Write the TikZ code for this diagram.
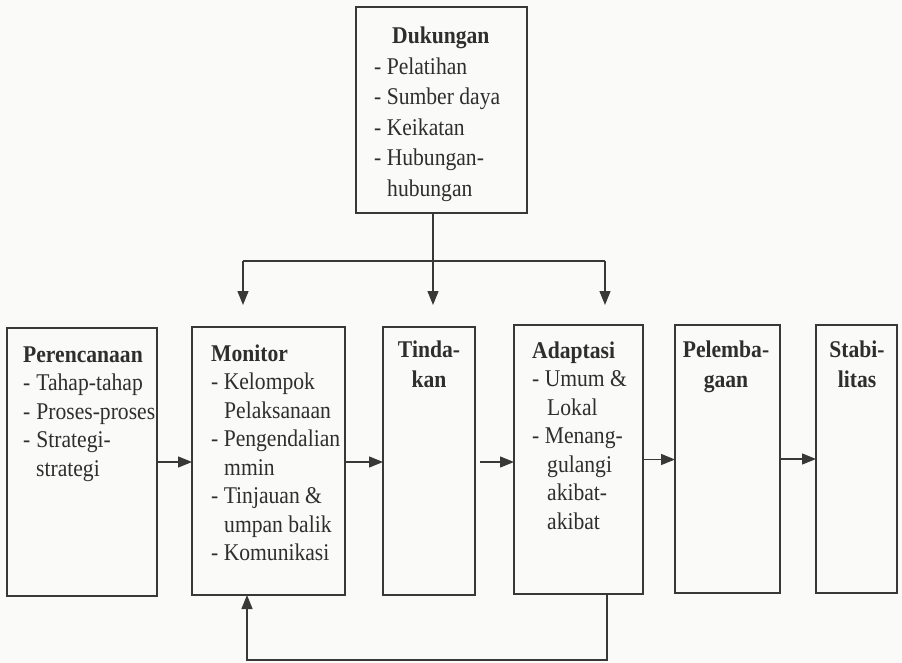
\documentclass[tikz,border=0pt]{standalone}
\usepackage{fontspec}
\setmainfont{Liberation Serif}[FakeStretch=0.9]
\usetikzlibrary{arrows.meta}
\definecolor{ink}{HTML}{2E2E2E}
\definecolor{rule}{HTML}{383838}
\definecolor{paper}{HTML}{FAFAF8}
% top-aligned blocks of lines, anchored at the first baseline
\newcommand\leftlines[1]{\parbox[t]{200pt}{\raggedright #1}}
\newcommand\midlines[1]{\parbox[t]{120pt}{\centering #1}}
\begin{document}
\begin{tikzpicture}[x=1pt,y=-1pt,
  box/.style={draw=rule,line width=1.3pt,inner sep=0pt,outer sep=0pt},
  line/.style={draw=rule,line width=1.3pt},
  arr/.style={line,-{Triangle[length=14pt,width=11pt]}},
  txt/.style={text=ink,inner sep=0pt,anchor=base west,
    font=\fontsize{24}{28.5}\selectfont},
  ctxt/.style={text=ink,inner sep=0pt,anchor=base,
    font=\bfseries\fontsize{24}{30}\selectfont}]
% page
\fill[paper] (0,0) rectangle (902,663);
\useasboundingbox (0,0) rectangle (902,663);

% boxes
\node[box,minimum width=171pt,minimum height=206pt] (duk) at (441.5,110) {};
\node[box,minimum width=150pt,minimum height=268pt] (per) at (82,462) {};
\node[box,minimum width=153pt,minimum height=268pt] (mon) at (268.5,461) {};
\node[box,minimum width=92pt,minimum height=268pt] (tin) at (429,461) {};
\node[box,minimum width=129pt,minimum height=269pt] (ada) at (578.5,459.5) {};
\node[box,minimum width=105pt,minimum height=268pt] (pel) at (727.5,459) {};
\node[box,minimum width=81pt,minimum height=268pt] (sta) at (856.5,459) {};

% box texts
\node[txt,font=\fontsize{24}{30.5}\selectfont] (dukT) at (374,44)
  {\leftlines{\hspace*{18pt}\textbf{Dukungan}\\- Pelatihan\\- Sumber daya\\- Keikatan\\- Hubungan-\\\hspace*{13pt}hubungan}};
\node[txt] (perT) at (23,362)
  {\leftlines{\textbf{Perencanaan}\\-\hspace{6pt}Tahap-tahap\\-\hspace{6pt}Proses-proses\\-\hspace{6pt}Strategi-\\\hspace*{13pt}strategi}};
\node[txt] (monT) at (211,361)
  {\leftlines{\textbf{Monitor}\\- Kelompok\\\hspace*{13pt}Pelaksanaan\\- Pengendalian\\\hspace*{13pt}mmin\\- Tinjauan \&\\\hspace*{13pt}umpan balik\\- Komunikasi}};
\node[ctxt] (tinT) at (429,357) {\midlines{Tinda-\\kan}};
\node[txt] (adaT) at (532,358)
  {\leftlines{\textbf{Adaptasi}\\- Umum \&\\\hspace*{15pt}Lokal\\- Menang-\\\hspace*{15pt}gulangi\\\hspace*{15pt}akibat-\\\hspace*{15pt}akibat}};
\node[ctxt] (pelT) at (726,357) {\midlines{Pelemba-\\gaan}};
\node[ctxt] (staT) at (857,357) {\midlines{Stabi-\\litas}};

% support branches
\coordinate (split) at (433,261);
\coordinate (monIn) at (243,305);
\coordinate (tinIn) at (433,305);
\coordinate (adaIn) at (605,305);
\draw[line] (duk.south -| split) -- (split);
\draw[line] (monIn |- split) -- (adaIn |- split);
\draw[arr] (monIn |- split) -- (monIn);
\draw[arr] (split) -- (tinIn);
\draw[arr] (adaIn |- split) -- (adaIn);

% main flow
\draw[arr] (per.east) -- (mon.west |- per.east);
\draw[arr] (mon.east |- per.east) -- (tin.west |- per.east);
\draw[arr] ([xshift=5pt]tin.east |- per.east) -- (ada.west |- per.east);
\draw[arr] (ada.east) -- (pel.west |- ada.east);
\draw[arr] (pel.east) -- (sta.west |- pel.east);

% feedback loop
\coordinate (fbR) at (607,660);
\coordinate (fbL) at (247,660);
\draw[arr] (ada.south -| fbR) -- (fbR) -- (fbL) -- (mon.south -| fbL);
\end{tikzpicture}
\end{document}
